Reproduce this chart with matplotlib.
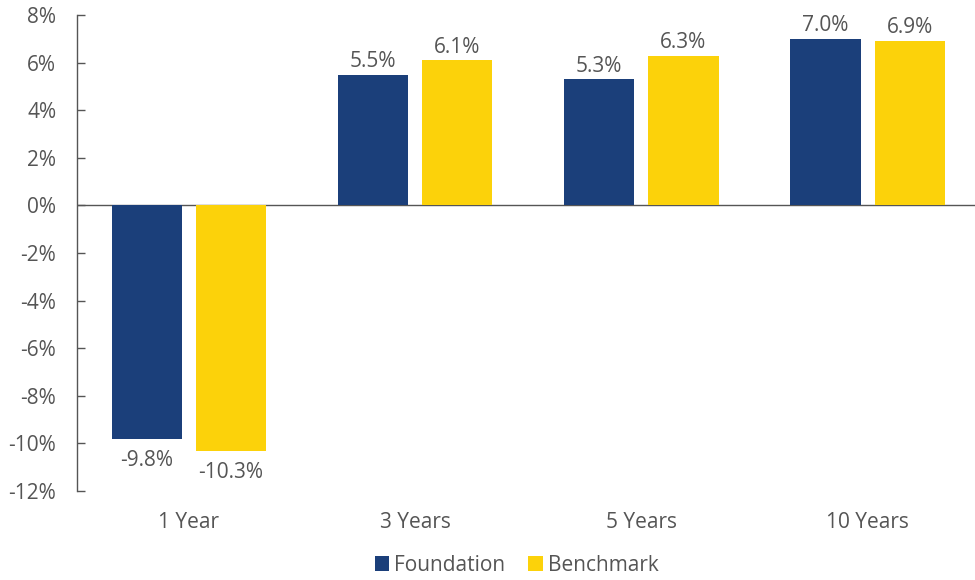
import numpy as np
import matplotlib.pyplot as plt
from matplotlib.ticker import FuncFormatter

# -----------------------------------------------------
# Data
# -----------------------------------------------------

periods = ["1 Year", "3 Years", "5 Years", "10 Years"]
foundation = [-9.8, 5.5, 5.3, 7.0]
benchmark = [-10.3, 6.1, 6.3, 6.9]

NAVY = "#1B3F7A"
YELLOW = "#FCD20A"
TEXT = "#555555"
FS = 15

plt.rcParams["font.family"] = ["Open Sans", "DejaVu Sans"]

fig = plt.figure(figsize=(9.75, 5.8), dpi=100)
ax = fig.add_axes([0.079, 0.1534, 0.921, 0.8206])

x = np.arange(len(periods))
w = 0.31
off = 0.186

b1 = ax.bar(x - off, foundation, w, color=NAVY, label="Foundation", zorder=2)
b2 = ax.bar(x + off, benchmark, w, color=YELLOW, label="Benchmark", zorder=2)

for bars, vals in [(b1, foundation), (b2, benchmark)]:
    for bar, v in zip(bars, vals):
        cx = bar.get_x() + bar.get_width() / 2
        if v >= 0:
            ax.annotate(f"{v:.1f}%", (cx, v), xytext=(0, 2), textcoords="offset points",
                        ha="center", va="bottom", fontsize=FS, color=TEXT)
        else:
            ax.annotate(f"{v:.1f}%", (cx, v), xytext=(0, -8), textcoords="offset points",
                        ha="center", va="top", fontsize=FS, color=TEXT)

ax.axhline(0, color="#555555", linewidth=1.0, zorder=1)

ax.set_ylim(-12, 8)
ax.set_xlim(-0.495, 3.475)
ax.set_yticks(np.arange(-12, 9, 2))
ax.yaxis.set_major_formatter(FuncFormatter(lambda v, p: f"{v:.0f}%"))
ax.set_xticks(x)
ax.set_xticklabels(periods)

ax.tick_params(axis="y", direction="in", length=6, width=1, color="#555555",
               labelsize=FS, labelcolor=TEXT, pad=15)
ax.tick_params(axis="x", length=0, labelsize=FS, labelcolor=TEXT, pad=15)

for s in ["top", "right", "bottom"]:
    ax.spines[s].set_visible(False)
ax.spines["left"].set_color("#555555")
ax.spines["left"].set_linewidth(1.0)

fig.legend(loc="lower center", bbox_to_anchor=(0.53, -0.025), ncol=2, frameon=False,
           fontsize=FS, labelcolor=TEXT, handlelength=0.7, handleheight=0.7,
           handletextpad=0.25, columnspacing=1.1)

fig.savefig("out.png", dpi=100)
